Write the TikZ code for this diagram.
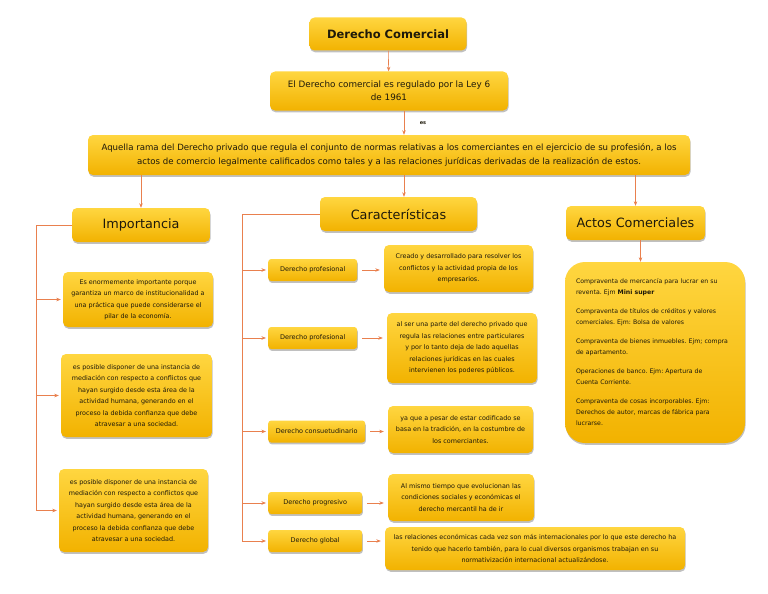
\documentclass[tikz,border=0pt]{standalone}
\usepackage{fontspec}
\setmainfont{DejaVu Sans}
\usetikzlibrary{shadows}
\usetikzlibrary{arrows.meta,shapes}
\usetikzlibrary{calc}
\definecolor{boxtop}{RGB}{255,214,64}
\definecolor{boxbot}{RGB}{242,178,0}
\definecolor{linkcol}{RGB}{233,128,78}
\definecolor{sidecol}{RGB}{250,200,60}
\definecolor{inkcol}{RGB}{30,25,10}
\tikzstyle{card}=[rectangle,rounded corners=5pt,top color=boxtop,bottom color=boxbot,draw=none,text=inkcol,drop shadow={shadow xshift=0.6pt,shadow yshift=-1.8pt,fill=black!45,opacity=0.55},inner sep=0pt,align=center]
\tikzstyle{head}=[card,font=\fontsize{12.8}{15}\selectfont,minimum height=34pt]
\tikzstyle{note}=[card,font=\fontsize{6.4}{11.5}\selectfont]
\tikzstyle{tag}=[card,rounded corners=3pt,font=\fontsize{6.5}{8}\selectfont,minimum height=22pt,anchor=west]
\tikzstyle{edge} = [draw,linkcol,line width=0.6pt,-{Stealth[length=4.5pt,width=3.5pt]}]
\tikzstyle{bracket} = [draw,linkcol,line width=0.6pt]

\begin{document}
\frenchspacing
\begin{tikzpicture}[x=1pt,y=-1pt]

    \useasboundingbox (0,0) rectangle (768,594);

%Top
    \node[card,font=\bfseries\fontsize{11.5}{13}\selectfont,minimum width=157pt,minimum height=33pt] (title) at (388,34) {Derecho Comercial};
    \node[card,font=\fontsize{8.8}{13}\selectfont,minimum width=238pt,minimum height=39pt] (ley) at (389,91) {El Derecho comercial es regulado por la Ley 6\\de 1961};
    \node[card,font=\fontsize{8.6}{14}\selectfont,minimum width=602pt,minimum height=40pt] (defin) at (389,155) {Aquella rama del Derecho privado que regula el conjunto de normas relativas a los comerciantes en el ejercicio de su profesión, a los\\actos de comercio legalmente calificados como tales y a las relaciones jurídicas derivadas de la realización de estos.};
    \node[font=\bfseries\fontsize{5}{6}\selectfont,text=inkcol] (es) at (423,123) {es};

%Headers
    \foreach \pos/\name/\boxw/\label in {{(141,225)/imp/138/Importancia}, {(398.5,214)/car/157/Características}, {(635.5,223)/act/139/Actos Comerciales}}
        \node[head,minimum width=\boxw pt] (\name) at \pos {\label};

% Edges top
    \path[edge] (title) -- (ley);
    \path[edge] ([xshift=15pt]ley.south) -- ([xshift=15pt]ley.south |- defin.north);
    \path[edge] (defin.south -| imp.north) -- (imp.north);
    \path[edge] ([xshift=15pt]defin.south) -- ([xshift=5.5pt]car.north);
    \path[edge] (defin.south -| act.north) -- (act.north);

%Importancia
    \node[note,minimum width=150pt,minimum height=55pt] (imp1) at (138,299.5) {Es enormemente importante porque\\garantiza un marco de institucionalidad a\\una práctica que puede considerarse el\\pilar de la economía.};
    \node[note,minimum width=151pt,minimum height=83pt] (imp2) at (136.5,395.5) {es posible disponer de una instancia de\\mediación con respecto a conflictos que\\hayan surgido desde esta área de la\\actividad humana, generando en el\\proceso la debida confianza que debe\\atravesar a una sociedad.};
    \node[note,minimum width=149pt,minimum height=83pt] (imp3) at (133.5,510.5) {es posible disponer de una instancia de\\mediación con respecto a conflictos que\\hayan surgido desde esta área de la\\actividad humana, generando en el\\proceso la debida confianza que debe\\atravesar a una sociedad.};

    \coordinate (impcorner) at ($(imp.west)+(-36,0)$);
    \draw[bracket] (imp.west) -- (impcorner) -- (impcorner |- imp3.west);
    \foreach \dest in {imp1, imp2, imp3}
        \path[edge,shorten >=2pt] (impcorner |- \dest.west) -- (\dest.west);

%Caracteristicas
    \foreach \pos/\name/\boxw/\label in {{(268,270)/pro1/89/Derecho profesional}, {(268,338)/pro2/89/Derecho profesional}, {(268,431.5)/con/97/Derecho consuetudinario}, {(268,503)/prg/94/Derecho progresivo}, {(268,541)/glo/94/Derecho global}}
        \node[tag,minimum width=\boxw pt] (\name) at \pos {\label};

    \node[note,minimum width=149pt,minimum height=47pt] (d1) at (458.5,268.5) {Creado y desarrollado para resolver los\\conflictos y la actividad propia de los\\empresarios.};
    \node[note,minimum width=150pt,minimum height=70pt] (d2) at (462,348) {al ser una parte del derecho privado que\\regula las relaciones entre particulares\\y por lo tanto deja de lado aquellas\\relaciones jurídicas en las cuales\\intervienen los poderes públicos.};
    \node[note,minimum width=145pt,minimum height=47pt] (d3) at (460.5,429.5) {ya que a pesar de estar codificado se\\basa en la tradición, en la costumbre de\\los comerciantes.};
    \node[note,minimum width=146pt,minimum height=47pt] (d4) at (461,497.5) {Al mismo tiempo que evolucionan las\\condiciones sociales y económicas el\\derecho mercantil ha de ir};
    \node[note,minimum width=300pt,minimum height=43pt] (d5) at (535,548.5) {las relaciones económicas cada vez son más internacionales por lo que este derecho ha\\tenido que hacerlo también, para lo cual diversos organismos trabajan en su\\normativización internacional actualizándose.};

    \coordinate (carcorner) at ($(car.west)+(-78,0)$);
    \draw[sidecol,line width=0.9pt] ([xshift=1pt]carcorner |- pro1.west) -- ([xshift=1pt]carcorner |- glo.west);
    \draw[bracket] (car.west) -- (carcorner) -- (carcorner |- glo.west);
    \foreach \source/\dest in {pro1/d1, pro2/d2, con/d3, prg/d4, glo/d5}
    {
        \path[edge,shorten >=2pt] (carcorner |- \source.west) -- (\source.west);
        \path[edge,shorten <=5pt,shorten >=4pt] (\source.east) -- (\source.east -| \dest.west);
    }

%Actos comerciales
    \node[note,font=\fontsize{6.2}{11}\selectfont,rounded corners=20pt,minimum width=180pt,minimum height=181pt,align=left,text width=158pt] (lst) at (655,352.5) {Compraventa de mercancía para lucrar en su\\reventa. Ejm \textbf{Mini super}\\[8pt]Compraventa de títulos de créditos y valores\\comerciales. Ejm: Bolsa de valores\\[8pt]Compraventa de bienes inmuebles. Ejm; compra\\de apartamento.\\[8pt]Operaciones de banco. Ejm: Apertura de\\Cuenta Corriente.\\[8pt]Compraventa de cosas incorporables. Ejm:\\Derechos de autor, marcas de fábrica para\\lucrarse.};
    \path[edge] ([xshift=5pt]act.south) -- ([xshift=5pt]act.south |- lst.north);

\end{tikzpicture}
\end{document}
